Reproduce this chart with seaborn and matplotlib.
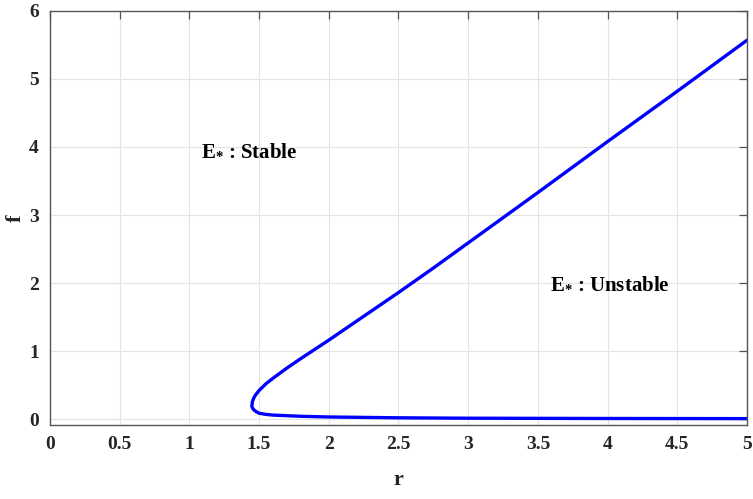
import matplotlib
matplotlib.use("Agg")
import matplotlib.pyplot as plt
import seaborn as sns
import pandas as pd

# Lower branch (from r=5 back to the fold) and upper branch (fold to r=5)
r_lower = [5.0, 4.5, 4.0, 3.5, 3.0, 2.5, 2.0, 1.8, 1.6, 1.55, 1.5, 1.478, 1.465, 1.456, 1.451, 1.448]
f_lower = [0.006, 0.007, 0.008, 0.010, 0.012, 0.018, 0.030, 0.040, 0.058, 0.068, 0.085, 0.11, 0.13, 0.15, 0.17, 0.19]
r_upper = [1.448, 1.4515, 1.46, 1.473, 1.5, 1.55, 1.6, 1.7, 1.8, 2.0, 2.25, 2.5, 2.75, 3.0, 3.5, 4.0, 4.5, 5.0]
f_upper = [0.19, 0.25, 0.30, 0.35, 0.42, 0.52, 0.60, 0.75, 0.89, 1.16, 1.51, 1.86, 2.22, 2.59, 3.33, 4.08, 4.82, 5.57]

x_ticks = [0, 0.5, 1, 1.5, 2, 2.5, 3, 3.5, 4, 4.5, 5]
x_labels = ["0", "0.5", "1", "1.5", "2", "2.5", "3", "3.5", "4", "4.5", "5"]
y_ticks = [0, 1, 2, 3, 4, 5, 6]

df = pd.DataFrame({"r": r_lower + r_upper[1:], "f": f_lower + f_upper[1:]})

sns.set_style("white")
plt.rcParams["font.family"] = ["Liberation Serif", "DejaVu Serif"]
plt.rcParams["font.weight"] = "bold"
plt.rcParams["mathtext.fontset"] = "custom"
plt.rcParams["mathtext.rm"] = "Liberation Serif:bold"
plt.rcParams["mathtext.it"] = "Liberation Serif:bold"
plt.rcParams["mathtext.bf"] = "Liberation Serif:bold"

fig = plt.figure(figsize=(7.53, 4.99), dpi=100)
ax = fig.add_axes([0.0664, 0.148, 0.9256, 0.83])

# sort=False + estimator=None keeps the folded curve as one path
sns.lineplot(data=df, x="r", y="f", sort=False, estimator=None,
             color="#0000ff", linewidth=2.4, ax=ax)

ax.set_xlim(0, 5)
ax.set_ylim(-0.09, 6)
ax.set_xticks(x_ticks)
ax.set_xticklabels(x_labels)
ax.set_yticks(y_ticks)
ax.grid(True, color="#e3e3e3", linewidth=0.8)
ax.set_axisbelow(True)

for s in ax.spines.values():
    s.set_color("#555555")
    s.set_linewidth(1.0)
ax.tick_params(direction="in", length=6, width=0.9, color="#555555",
               top=True, right=True, labelsize=14, pad=8)
for lab in ax.get_xticklabels() + ax.get_yticklabels():
    lab.set_fontweight("bold")
    lab.set_color("#262626")

ax.set_xlabel("r", fontsize=16, fontweight="bold", color="#262626", labelpad=12)
ax.set_ylabel("f", fontsize=16, fontweight="bold", color="#262626", labelpad=2)

ax.text(1.08, 3.96, "$\\mathrm{E}_{*}$ : Stable", fontsize=15, fontweight="bold",
        va="center", ha="left", color="black")
ax.text(3.59, 2.0, "$\\mathrm{E}_{*}$ : Unstable", fontsize=15, fontweight="bold",
        va="center", ha="left", color="black")

fig.savefig("out.png", dpi=100)
